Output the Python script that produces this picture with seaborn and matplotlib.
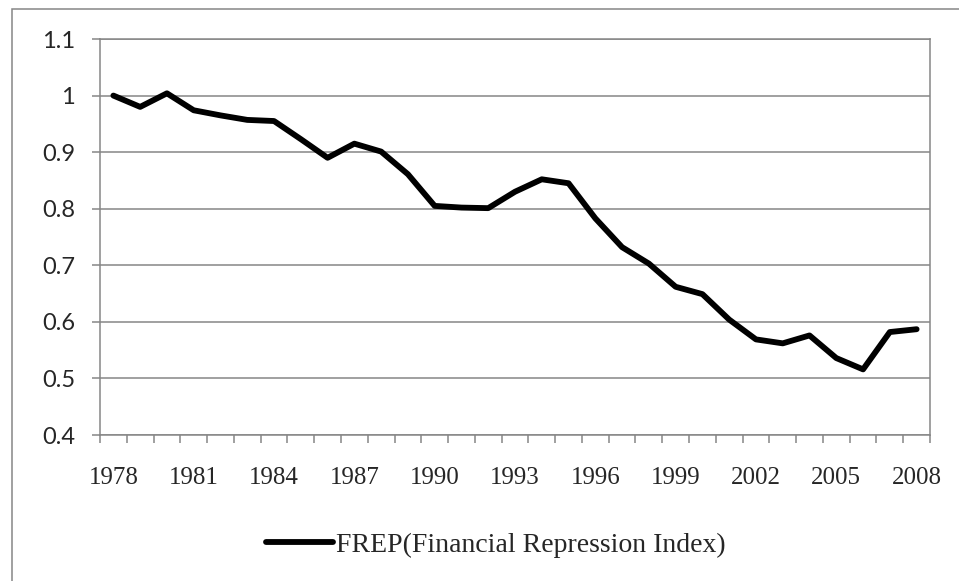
# -*- coding:utf-8 -*-
# FREP line chart (Excel style)
import matplotlib
matplotlib.use('Agg')
import matplotlib.pyplot as plt
import matplotlib.patches as mpatches
import seaborn as sns
import pandas as pd
import numpy as np

years = list(range(1978, 2009))
frep = [1.000, 0.980, 1.004, 0.974, 0.965, 0.957, 0.955, 0.923, 0.890, 0.915,
        0.901, 0.861, 0.805, 0.802, 0.801, 0.830, 0.852, 0.845, 0.783, 0.732,
        0.703, 0.662, 0.649, 0.604, 0.569, 0.562, 0.576, 0.536, 0.516, 0.582,
        0.587]
series_name = 'FREP(Financial Repression Index)'
y_ticks = [0.4, 0.5, 0.6, 0.7, 0.8, 0.9, 1.0, 1.1]
y_ticklabels = ['0.4', '0.5', '0.6', '0.7', '0.8', '0.9', '1', '1.1']

df = pd.DataFrame({'idx': np.arange(len(years)), 'value': frep, 'series': series_name})

sns.set_style("white")
plt.rcParams['font.family'] = ['Liberation Serif', 'DejaVu Serif']

grey = '#868686'
fig = plt.figure(figsize=(9.59, 5.81), dpi=100)
ax = fig.add_axes([100 / 959, 1 - 435 / 581, 830 / 959, 396 / 581])

sns.lineplot(data=df, x='idx', y='value', hue='series', palette=['black'],
             linewidth=4.2, ax=ax, legend=False, solid_capstyle='round',
             solid_joinstyle='round')

ax.set_xlim(-0.5, len(years) - 0.5)
ax.set_ylim(0.4, 1.1)
ax.set_xlabel('')
ax.set_ylabel('')

# y axis
ax.set_yticks(y_ticks)
ax.set_yticklabels(y_ticklabels, family=['Lato', 'DejaVu Sans'], fontsize=17)
ax.yaxis.grid(True, color=grey, linewidth=1.1)
ax.tick_params(axis='y', length=6, width=1.1, color=grey, pad=12, left=True)

# x axis: category ticks at boundaries, labels every 3 years
ax.set_xticks(np.arange(0, len(years), 3))
ax.set_xticklabels([str(y) for y in years[::3]], fontsize=18)
ax.set_xticks(np.arange(-0.5, len(years), 1), minor=True)
ax.tick_params(axis='x', which='major', length=0, pad=23)
ax.tick_params(axis='x', which='minor', length=6, width=1.1, color=grey, bottom=True)

for side in ['left', 'bottom', 'right', 'top']:
    ax.spines[side].set_color(grey)
    ax.spines[side].set_linewidth(1.1)
    ax.spines[side].set_visible(True)
ax.set_axisbelow(True)

# legend
handle = plt.Line2D([], [], color='black', linewidth=4.2, solid_capstyle='round')
fig.legend([handle], [series_name], loc='center', frameon=False, fontsize=20,
           bbox_to_anchor=(496 / 959, 1 - 545 / 581), handlelength=2.4,
           handletextpad=0.1)

# chart area border
border = mpatches.Rectangle((12 / 959, -0.2), 1.2, 1.2 - 9 / 581, transform=fig.transFigure,
                            fill=False, edgecolor=grey, linewidth=1.1, clip_on=False)
fig.add_artist(border)

fig.savefig('out.png', dpi=100, facecolor='white')
